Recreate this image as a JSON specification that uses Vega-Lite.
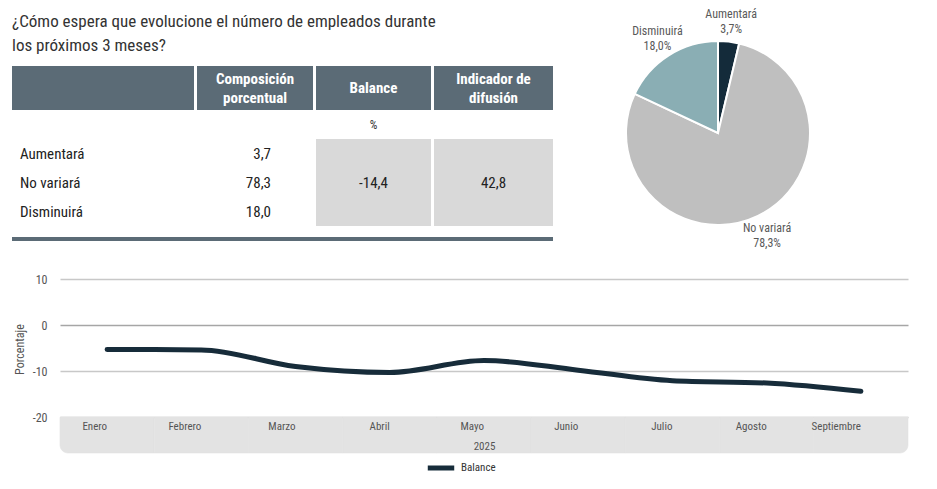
{
  "$schema": "https://vega.github.io/schema/vega-lite/v6.json",
  "padding": {"left": 12, "top": 7, "right": 5, "bottom": 5},
  "background": "white",
  "datasets": {
    "tabla": [
      {"respuesta": "Aumentará", "porcentaje": 3.7},
      {"respuesta": "No variará", "porcentaje": 78.3},
      {"respuesta": "Disminuirá", "porcentaje": 18.0}
    ],
    "encabezados": [
      {"columna": "etiqueta", "texto": ""},
      {"columna": "composicion", "texto": "Composición\nporcentual"},
      {"columna": "balance", "texto": "Balance"},
      {"columna": "difusion", "texto": "Indicador de\ndifusión"}
    ],
    "indicadores": [
      {"indicador": "balance", "valor": -14.4},
      {"indicador": "difusion", "valor": 42.8}
    ],
    "serie": [
      {"mes": "Enero", "serie": "Balance", "valor": -5.3},
      {"mes": "Febrero", "serie": "Balance", "valor": -5.4},
      {"mes": "Marzo", "serie": "Balance", "valor": -9.0},
      {"mes": "Abril", "serie": "Balance", "valor": -10.3},
      {"mes": "Mayo", "serie": "Balance", "valor": -7.7},
      {"mes": "Junio", "serie": "Balance", "valor": -9.8},
      {"mes": "Julio", "serie": "Balance", "valor": -12.1},
      {"mes": "Agosto", "serie": "Balance", "valor": -12.6},
      {"mes": "Septiembre", "serie": "Balance", "valor": -14.4}
    ]
  },
  "resolve": {"scale": {"color": "independent"}, "legend": {"color": "independent"}},
  "vconcat": [
    {
      "hconcat": [
        {
          "title": {
            "text": ["¿Cómo espera que evolucione el número de empleados durante", "los próximos 3 meses?"],
            "anchor": "start",
            "frame": "group",
            "fontSize": 17,
            "fontWeight": "normal",
            "color": "#333333",
            "lineHeight": 24,
            "offset": 11
          },
          "vconcat": [
            {
              "vconcat": [
                {
                  "hconcat": [
                    {
                      "width": 182, "height": 44,
                      "data": {"name": "encabezados"},
                      "transform": [{"filter": "datum.columna == 'etiqueta'"}],
                      "mark": {"type": "rect", "color": "#5b6b76"},
                      "encoding": {
                        "x": {"field": "columna", "type": "nominal", "axis": null},
                        "y": {"field": "columna", "type": "nominal", "axis": null}
                      }
                    },
                    {
                      "width": 116, "height": 44,
                      "data": {"name": "encabezados"},
                      "transform": [{"filter": "datum.columna == 'composicion'"}],
                      "layer": [
                        {
                          "mark": {"type": "rect", "color": "#5b6b76"},
                          "encoding": {
                            "x": {"field": "columna", "type": "nominal", "axis": null},
                            "y": {"field": "columna", "type": "nominal", "axis": null}
                          }
                        },
                        {
                          "mark": {"type": "text", "color": "white", "fontWeight": "bold", "fontSize": 15, "lineBreak": "\n", "lineHeight": 19, "baseline": "middle", "dy": -9},
                          "encoding": {"text": {"field": "texto"}}
                        }
                      ]
                    },
                    {
                      "width": 115, "height": 44,
                      "data": {"name": "encabezados"},
                      "transform": [{"filter": "datum.columna == 'balance'"}],
                      "layer": [
                        {
                          "mark": {"type": "rect", "color": "#5b6b76"},
                          "encoding": {
                            "x": {"field": "columna", "type": "nominal", "axis": null},
                            "y": {"field": "columna", "type": "nominal", "axis": null}
                          }
                        },
                        {
                          "mark": {"type": "text", "color": "white", "fontWeight": "bold", "fontSize": 15, "baseline": "middle"},
                          "encoding": {"text": {"field": "texto"}}
                        }
                      ]
                    },
                    {
                      "width": 119, "height": 44,
                      "data": {"name": "encabezados"},
                      "transform": [{"filter": "datum.columna == 'difusion'"}],
                      "layer": [
                        {
                          "mark": {"type": "rect", "color": "#5b6b76"},
                          "encoding": {
                            "x": {"field": "columna", "type": "nominal", "axis": null},
                            "y": {"field": "columna", "type": "nominal", "axis": null}
                          }
                        },
                        {
                          "mark": {"type": "text", "color": "white", "fontWeight": "bold", "fontSize": 15, "lineBreak": "\n", "lineHeight": 19, "baseline": "middle", "dy": -9},
                          "encoding": {"text": {"field": "texto"}}
                        }
                      ]
                    }
                  ],
                  "spacing": 3
                },
                {
                  "hconcat": [
                    {
                      "width": 182, "height": 116,
                      "data": {"name": "tabla"},
                      "mark": {"type": "text", "align": "left", "dx": -83, "fontSize": 15, "color": "#222222"},
                      "encoding": {
                        "y": {"field": "respuesta", "type": "nominal", "axis": null,
                              "scale": {"type": "band", "domain": ["%", "Aumentará", "No variará", "Disminuirá"], "paddingInner": 0, "paddingOuter": 0}},
                        "text": {"field": "respuesta"}
                      }
                    },
                    {
                      "width": 116, "height": 116,
                      "data": {"name": "tabla"},
                      "mark": {"type": "text", "align": "right", "dx": 16, "fontSize": 15, "color": "#222222"},
                      "encoding": {
                        "y": {"field": "respuesta", "type": "nominal", "axis": null,
                              "scale": {"type": "band", "domain": ["%", "Aumentará", "No variará", "Disminuirá"], "paddingInner": 0, "paddingOuter": 0}},
                        "text": {"field": "porcentaje", "type": "quantitative", "format": ".1f"}
                      }
                    },
                    {
                      "width": 115, "height": 116,
                      "layer": [
                        {
                          "data": {"name": "tabla"},
                          "mark": {"type": "rect", "color": "#d9d9d9"},
                          "encoding": {
                            "y": {"field": "respuesta", "type": "nominal", "axis": null,
                                  "scale": {"type": "band", "domain": ["%", "Aumentará", "No variará", "Disminuirá"], "paddingInner": 0, "paddingOuter": 0}}
                          }
                        },
                        {
                          "data": {"name": "indicadores"},
                          "transform": [{"filter": "datum.indicador == 'balance'"}],
                          "mark": {"type": "text", "fontSize": 12, "color": "#333333", "text": "%"},
                          "encoding": {"y": {"datum": "%", "type": "nominal"}}
                        },
                        {
                          "data": {"name": "indicadores"},
                          "transform": [{"filter": "datum.indicador == 'balance'"}],
                          "mark": {"type": "text", "fontSize": 15, "color": "#222222"},
                          "encoding": {
                            "y": {"datum": "No variará", "type": "nominal"},
                            "text": {"field": "valor", "type": "quantitative", "format": ".1f"}
                          }
                        }
                      ]
                    },
                    {
                      "width": 119, "height": 116,
                      "layer": [
                        {
                          "data": {"name": "tabla"},
                          "mark": {"type": "rect", "color": "#d9d9d9"},
                          "encoding": {
                            "y": {"field": "respuesta", "type": "nominal", "axis": null,
                                  "scale": {"type": "band", "domain": ["%", "Aumentará", "No variará", "Disminuirá"], "paddingInner": 0, "paddingOuter": 0}}
                          }
                        },
                        {
                          "data": {"name": "indicadores"},
                          "transform": [{"filter": "datum.indicador == 'difusion'"}],
                          "mark": {"type": "text", "fontSize": 15, "color": "#222222"},
                          "encoding": {
                            "y": {"datum": "No variará", "type": "nominal"},
                            "text": {"field": "valor", "type": "quantitative", "format": ".1f"}
                          }
                        }
                      ]
                    }
                  ],
                  "spacing": 3
                }
              ],
              "spacing": 0
            },
            {
              "width": 541, "height": 4,
              "data": {"values": [{}]},
              "mark": {"type": "rect", "color": "#5b6b76"},
              "encoding": {}
            }
          ],
          "spacing": 11
        },
        {
          "width": 236, "height": 134,
          "data": {"name": "tabla"},
          "encoding": {
            "theta": {"field": "porcentaje", "type": "quantitative", "stack": true, "scale": {"range": [0.2325, 6.5157]}},
            "order": {"field": "respuesta", "sort": "descending"},
            "color": {"field": "respuesta", "type": "nominal",
                      "scale": {"domain": ["Aumentará", "No variará", "Disminuirá"], "range": ["#142b3a", "#bfbfbf", "#8aaeb4"]},
                      "legend": null}
          },
          "layer": [
            {"mark": {"type": "arc", "outerRadius": 92, "stroke": "white", "strokeWidth": 2}},
            {
              "mark": {"type": "text", "radius": 113, "dy": -7, "fontSize": 12},
              "encoding": {
                "text": {"field": "respuesta"},
                "color": {"value": "#595959"},
                "detail": {"field": "respuesta", "type": "nominal"}
              }
            },
            {
              "mark": {"type": "text", "radius": 113, "dy": 8, "fontSize": 12},
              "encoding": {
                "text": {"field": "porcentaje", "type": "quantitative", "format": "$.1f"},
                "color": {"value": "#595959"},
                "detail": {"field": "respuesta", "type": "nominal"}
              }
            }
          ]
        }
      ],
      "spacing": 47
    },
    {
      "width": 896, "height": 174,
      "data": {"name": "serie"},
      "layer": [
        {
          "mark": {"type": "rect", "color": "#e3e3e3", "stroke": "#e3e3e3", "strokeWidth": 0.6,
                   "cornerRadiusBottomLeft": {"expr": "datum.mes === 'Enero' ? 8 : 0"},
                   "cornerRadiusBottomRight": {"expr": "datum.mes === 'Septiembre' ? 8 : 0"}},
          "encoding": {
            "x": {"field": "mes", "type": "nominal"},
            "y": {"datum": -20, "type": "quantitative"},
            "y2": {"datum": -27.8}
          }
        },
        {
          "mark": {"type": "line", "interpolate": "monotone", "strokeWidth": 5, "strokeCap": "round"},
          "encoding": {
            "x": {"field": "mes", "type": "nominal", "sort": null,
                  "scale": {"type": "band", "domain": ["Enero", "Febrero", "Marzo", "Abril", "Mayo", "Junio", "Julio", "Agosto", "Septiembre"], "range": [48, 896], "paddingInner": 0, "paddingOuter": 0},
                  "axis": {"orient": "bottom", "offset": -36, "title": "2025", "labelAngle": 0, "domain": false, "ticks": false, "zindex": 1,
                           "labelPadding": 9, "titlePadding": 9, "labelFontSize": 11, "titleFontSize": 11, "titleFontWeight": "normal",
                           "labelColor": "#555555", "titleColor": "#555555"}},
            "y": {"field": "valor", "type": "quantitative",
                  "scale": {"domain": [-27.8, 10], "nice": false, "zero": false},
                  "axis": {"values": [-20, -10, 0, 10], "title": "Porcentaje", "grid": true,
                           "gridColor": {"condition": {"test": "datum.value === 0", "value": "#a6a6a6"}, "value": "#c8c8c8"}, "gridWidth": 1.5,
                           "offset": -48, "domain": false, "ticks": false, "labelPadding": 13, "titlePadding": 6, "titleY": 70,
                           "labelFontSize": 12, "titleFontSize": 12,
                           "titleFontWeight": "normal", "labelColor": "#555555", "titleColor": "#555555"}},
            "color": {"field": "serie", "type": "nominal", "scale": {"range": ["#172c3a"]},
                      "legend": {"orient": "bottom", "title": null, "symbolType": "stroke", "symbolStrokeWidth": 5, "symbolSize": 700,
                                 "labelFontSize": 11, "offset": -1, "labelColor": "#333333"}}
          }
        }
      ]
    }
  ],
  "spacing": 24,
  "config": {
    "view": {"stroke": null},
    "font": "Roboto Condensed, Liberation Sans Narrow, Arial Narrow, Roboto, sans-serif",
    "title": {"font": "Roboto Condensed, Liberation Sans Narrow, Arial Narrow, Roboto, sans-serif"},
    "legend": {"layout": {"bottom": {"anchor": "middle"}}},
    "locale": {"number": {"decimal": ",", "thousands": ".", "grouping": [3], "currency": ["", "%"], "minus": "-"}}
  }
}
